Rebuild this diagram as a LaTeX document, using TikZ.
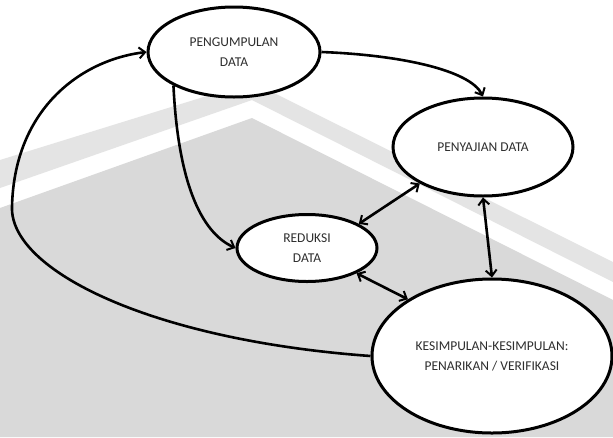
\documentclass[tikz,border=0pt]{standalone}
\usepackage{fontspec}
\setmainfont{Carlito}
\usetikzlibrary{shapes.geometric,arrows.meta}
\definecolor{wmgray}{HTML}{D9D9D9}
\definecolor{wmlight}{HTML}{E4E4E4}
\definecolor{txt}{HTML}{2E2E2E}
\begin{document}
\begin{tikzpicture}[x=1pt,y=-1pt,
  stage/.style={ellipse,draw=black,line width=3pt,fill=white,inner sep=0pt,
    align=center,text=txt,font=\fontsize{13.5}{20}\selectfont},
  tip/.tip={Straight Barb[length=6pt,width=11pt,line width=2pt]},
  arr/.style={line width=2.6pt,-tip},
  biarr/.style={line width=2.6pt,tip-tip}]
\useasboundingbox (0,0) rectangle (613,437);
% background watermark shapes
\fill[white] (0,0) rectangle (613,437);
\fill[wmlight] (0,160) -- (252,82) -- (613,262) -- (613,282) -- (252,100) -- (0,188) -- cycle;
\fill[wmgray] (0,208) -- (252,118) -- (613,300) -- (613,437) -- (0,437) -- cycle;
% stages
\node[stage,minimum width=172pt,minimum height=90pt] (pd) at (234,52) {PENGUMPULAN\\DATA};
\node[stage,minimum width=180pt,minimum height=98pt] (py) at (483,147) {PENYAJIAN DATA};
\node[stage,minimum width=140pt,minimum height=67pt] (rd) at (307,248) {REDUKSI\\DATA};
\node[stage,minimum width=240pt,minimum height=154pt] (ks) at (492,356) {KESIMPULAN-KESIMPULAN:\\PENARIKAN / VERIFIKASI};
% connectors
\draw[arr] (pd.east) .. controls (400,55) and (470,70) .. (py.north);
\draw[arr] (pd.209) .. controls (178,180) and (200,232) .. (rd.west);
\draw[biarr] (rd.25) -- (py.210);
\draw[biarr] (rd.-27) -- (ks.146);
\draw[biarr] (py.south) -- (ks.north);
\draw[arr] (ks.west) .. controls (150,340) and (10,270) .. (12,207)
  .. controls (14,110) and (80,60) .. (pd.west);
\end{tikzpicture}
\end{document}
